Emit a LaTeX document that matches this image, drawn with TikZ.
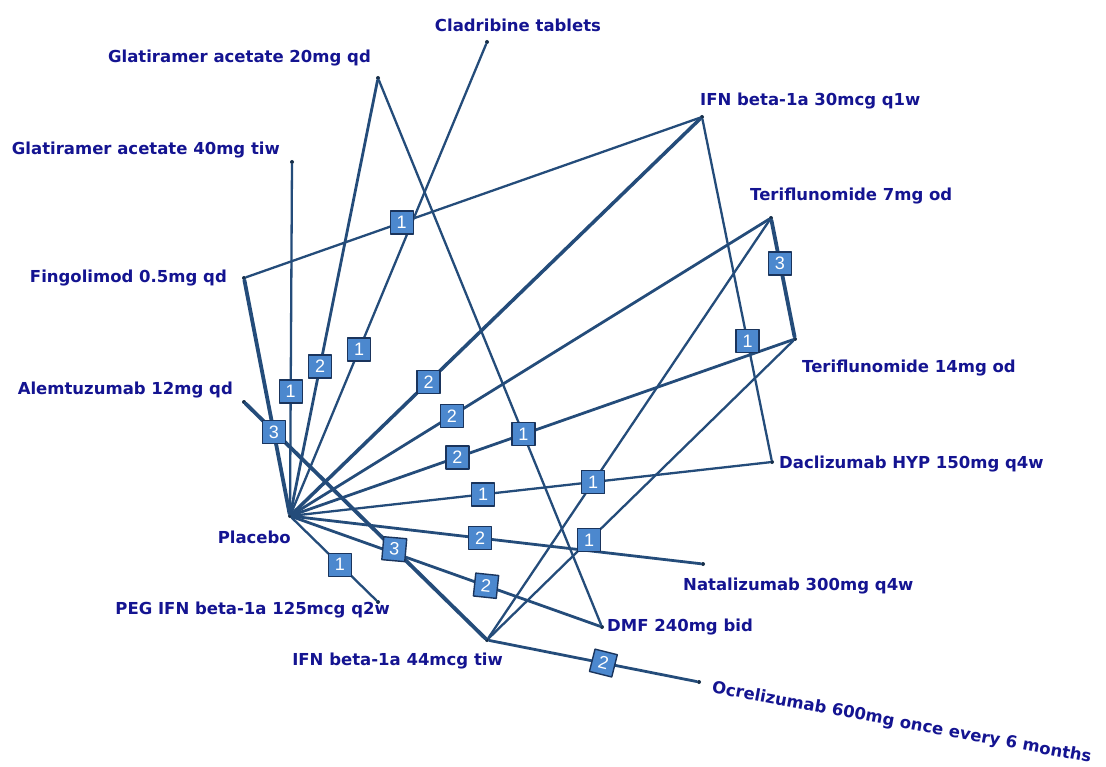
\documentclass[tikz,border=0pt]{standalone}
\usepackage{fontspec}
\setmainfont{DejaVu Sans}
\newfontfamily\numfont{Liberation Sans}
\usepackage{xcolor}
\definecolor{navytext}{RGB}{20,20,145}
\definecolor{edgeblue}{RGB}{36,76,122}
\definecolor{boxblue}{RGB}{76,136,206}
\definecolor{boxline}{RGB}{26,52,92}

\begin{document}
\begin{tikzpicture}[x=1pt,y=-1pt,line cap=round,line join=round,
  trt/.style={circle,fill=edgeblue!60!black,inner sep=0pt,minimum size=4pt},
  lab/.style={text=navytext,font=\fontsize{16.5}{20}\selectfont\bfseries,inner sep=0pt},
  one/.style={draw=edgeblue,line width=2.3pt},
  two/.style={draw=edgeblue,line width=2.8pt},
  three/.style={draw=edgeblue,line width=3.8pt},
  cnt/.style={draw=boxline,fill=boxblue,line width=1.4pt,minimum size=23pt,inner sep=0pt,
    text=white,font=\numfont\fontsize{18}{18}\selectfont}]
  \useasboundingbox (0,0) rectangle (1106,767);
  % treatments
  \node[trt] (plac) at (290,516) {};
  \node[trt] (glat20) at (378,78) {};
  \node[trt] (clad) at (487,42) {};
  \node[trt] (glat40) at (292,162) {};
  \node[trt] (fing) at (244,278) {};
  \node[trt] (alem) at (244,402) {};
  \node[trt] (ifn30) at (702,117) {};
  \node[trt] (teri7) at (771,218) {};
  \node[trt] (teri14) at (795,339) {};
  \node[trt] (dac) at (772,462) {};
  \node[trt] (nat) at (703,564) {};
  \node[trt] (dmf) at (602,627) {};
  \node[trt] (ifn44) at (487,640) {};
  \node[trt] (ocr) at (699,682) {};
  \node[trt] (peg) at (378,602) {};
  % labels
  \node[lab,anchor=center] (lclad) at (518,25) {Cladribine tablets};
  \node[lab,anchor=east] (lglat20) at (371,58) {Glatiramer acetate 20mg qd};
  \node[lab,anchor=east] (lglat40) at (280,150) {Glatiramer acetate 40mg tiw};
  \node[lab,anchor=east] (lfing) at (227,278) {Fingolimod 0.5mg qd};
  \node[lab,anchor=east] (lalem) at (233,390) {Alemtuzumab 12mg qd};
  \node[lab,anchor=east] (lplac) at (291,537) {Placebo};
  \node[lab,anchor=east] (lpeg) at (390,610) {PEG IFN beta-1a 125mcg q2w};
  \node[lab,anchor=east] (lifn44) at (503,661) {IFN beta-1a 44mcg tiw};
  \node[lab,anchor=west,rotate=-10.5] (locr) at (712,688) {Ocrelizumab 600mg once every 6 months};
  \node[lab,anchor=west] (ldmf) at (607,627) {DMF 240mg bid};
  \node[lab,anchor=west] (lnat) at (683,586) {Natalizumab 300mg q4w};
  \node[lab,anchor=west] (ldac) at (779,464) {Daclizumab HYP 150mg q4w};
  \node[lab,anchor=west] (lteri14) at (802,368) {Teriflunomide 14mg od};
  \node[lab,anchor=west] (lteri7) at (750,196) {Teriflunomide 7mg od};
  \node[lab,anchor=west] (lifn30) at (700,101) {IFN beta-1a 30mcg q1w};
  % comparisons
  \draw[two] (plac) -- coordinate[pos=.34] (m1) (glat20);
  \draw[one] (plac) -- coordinate[pos=.35] (m2) (clad);
  \draw[one] (plac) -- coordinate[pos=.35] (m3) (glat40);
  \draw[three] (plac) -- coordinate[pos=.35] (m4) (fing);
  \draw[two,line width=3.5pt] (plac) -- coordinate[pos=.335] (m5) (ifn30);
  \draw[two] (plac) -- coordinate[pos=.335] (m6) (teri7);
  \draw[two] (plac) -- coordinate[pos=.33] (m7) (teri14);
  \draw[one] (plac) -- coordinate[pos=.40] (m8) (dac);
  \draw[two] (plac) -- coordinate[pos=.46] (m9) (nat);
  \draw[two] (plac) -- coordinate[pos=.63] (m10) (dmf);
  \draw[one] (plac) -- coordinate[pos=.57] (m11) (peg);
  \draw[three] (alem) -- coordinate[pos=.62] (m12) (ifn44);
  \draw[one] (fing) -- coordinate[pos=.343] (m13) (ifn30);
  \draw[one] (ifn30) -- coordinate[pos=.652] (m14) (dac);
  \draw[one] (glat20) -- coordinate[pos=.65] (m15) (dmf);
  \draw[one] (ifn44) -- coordinate[pos=.373] (m16) (teri7);
  \draw[one] (ifn44) -- coordinate[pos=.33] (m17) (teri14);
  \draw[two] (ifn44) -- coordinate[pos=.55] (m18) (ocr);
  \draw[three] (teri7) -- coordinate[pos=.37] (m19) (teri14);
  % number of studies
  \node[cnt] (n1) at (m1) {2};
  \node[cnt] (n2) at (m2) {1};
  \node[cnt] (n3) at (m3) {1};
  \node[cnt] (n4) at (m4) {3};
  \node[cnt] (n5) at (m5) {2};
  \node[cnt] (n6) at (m6) {2};
  \node[cnt] (n7) at (m7) {2};
  \node[cnt] (n8) at (m8) {1};
  \node[cnt] (n9) at (m9) {2};
  \node[cnt,rotate=-6] (n10) at (m10) {2};
  \node[cnt] (n11) at (m11) {1};
  \node[cnt,rotate=-5] (n12) at (m12) {3};
  \node[cnt] (n13) at (m13) {1};
  \node[cnt] (n14) at (m14) {1};
  \node[cnt] (n15) at (m15) {1};
  \node[cnt] (n16) at (m16) {1};
  \node[cnt] (n17) at (m17) {1};
  \node[cnt,rotate=-14] (n18) at (m18) {2};
  \node[cnt] (n19) at (m19) {3};
\end{tikzpicture}
\end{document}
